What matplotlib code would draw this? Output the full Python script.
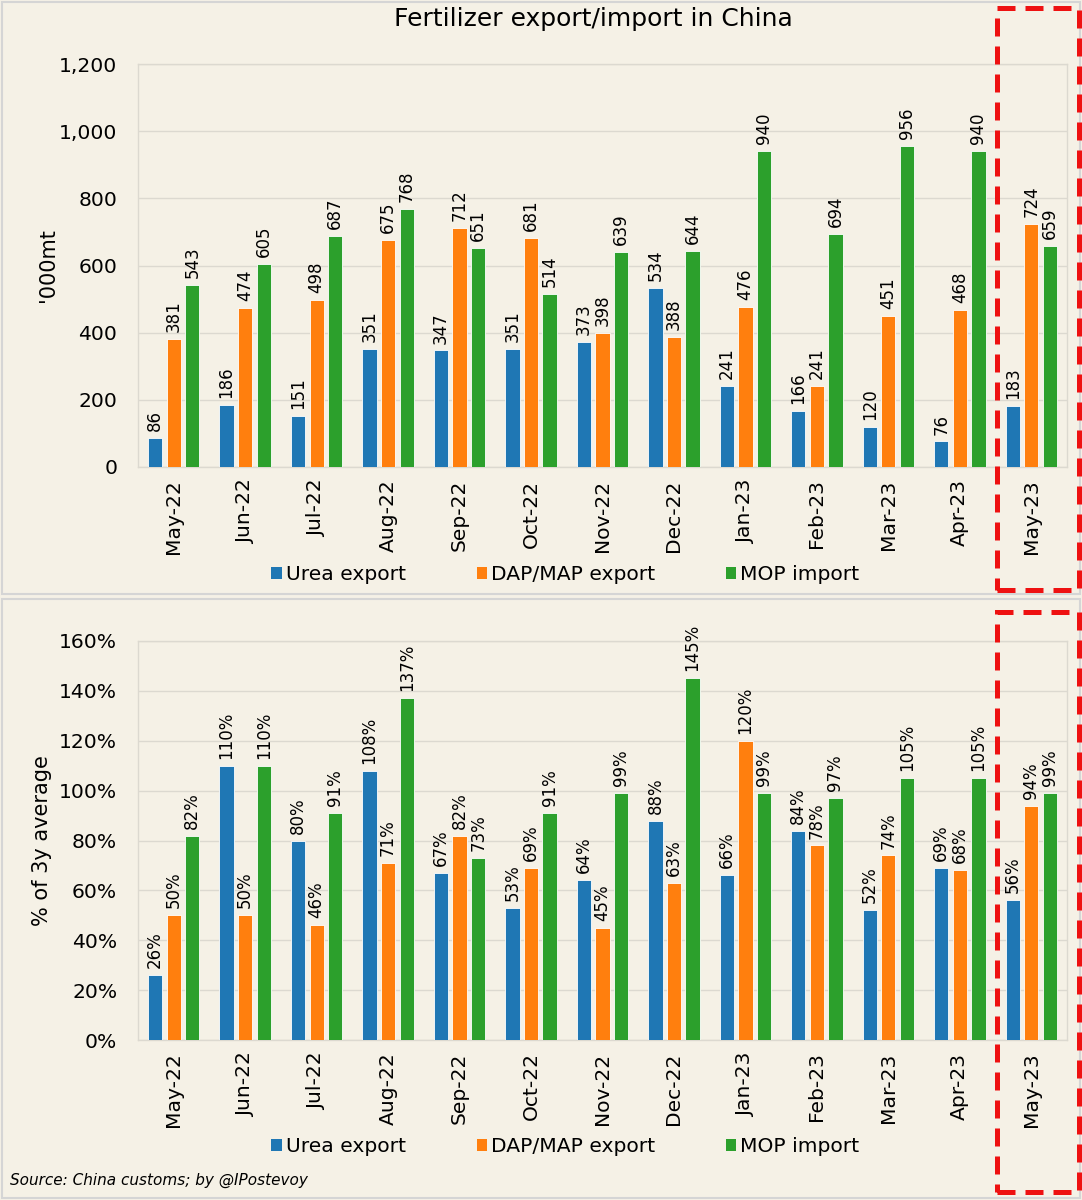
import matplotlib
matplotlib.use("Agg")
import matplotlib.pyplot as plt
import numpy as np
from matplotlib.patches import Rectangle, Patch

plt.rcParams['font.family'] = ['DejaVu Sans']

# data
months = ['May-22', 'Jun-22', 'Jul-22', 'Aug-22', 'Sep-22', 'Oct-22', 'Nov-22',
          'Dec-22', 'Jan-23', 'Feb-23', 'Mar-23', 'Apr-23', 'May-23']
series_names = ['Urea export', 'DAP/MAP export', 'MOP import']

urea_kt = [86, 186, 151, 351, 347, 351, 373, 534, 241, 166, 120, 76, 183]
dap_kt = [381, 474, 498, 675, 712, 681, 398, 388, 476, 241, 451, 468, 724]
mop_kt = [543, 605, 687, 768, 651, 514, 639, 644, 940, 694, 956, 940, 659]

urea_pct = [26, 110, 80, 108, 67, 53, 64, 88, 66, 84, 52, 69, 56]
dap_pct = [50, 50, 46, 71, 82, 69, 45, 63, 120, 78, 74, 68, 94]
mop_pct = [82, 110, 91, 137, 73, 91, 99, 145, 99, 97, 105, 105, 99]

colors = ['#1F77B4', '#FF7F0E', '#2CA02C']
bg = '#F5F1E6'
grid_c = '#DCD9D0'

W, H = 1082, 1200
fig = plt.figure(figsize=(W / 100, H / 100), dpi=100, facecolor=bg)


def fx(px):
    return px / W


def fy(py):
    return 1 - py / H


def draw_panel(ax, data, ymax, ystep, fmt, ylabel, ylab_x):
    ax.set_facecolor(bg)
    x = np.arange(len(months))
    offs = [-0.26, 0.0, 0.26]
    for vals, off, c in zip(data, offs, colors):
        bars = ax.bar(x + off, vals, width=0.2, color=c, edgecolor='white',
                      linewidth=0.6, zorder=3)
        for b, v in zip(bars, vals):
            ax.annotate(fmt(v), (b.get_x() + b.get_width() / 2, b.get_height()),
                        xytext=(0, 5), textcoords='offset points',
                        rotation=90, ha='center', va='bottom', fontsize=12)
    ax.set_xlim(-0.5, len(months) - 0.5)
    ax.set_ylim(0, ymax)
    ticks = np.arange(0, ymax + 1, ystep)
    ax.set_yticks(ticks)
    ax.set_yticklabels([fmt(t) for t in ticks])
    ax.set_xticks(x)
    ax.set_xticklabels(months, rotation=90)
    ax.tick_params(axis='both', length=0, labelsize=14.6)
    ax.tick_params(axis='y', pad=15)
    ax.tick_params(axis='x', pad=9)
    ax.yaxis.grid(True, color=grid_c, linewidth=1, zorder=0)
    for s in ax.spines.values():
        s.set_color(grid_c)
        s.set_linewidth(1)
    ax.set_ylabel(ylabel, fontsize=15)
    ax.yaxis.set_label_coords(ylab_x, 0.5)
    handles = [Patch(facecolor=c, edgecolor='none') for c in colors]
    ax.legend(handles, series_names, loc='center', bbox_to_anchor=(0.46, -0.267),
              ncol=3, frameon=False, fontsize=14.6, handlelength=0.5,
              handleheight=0.5, handletextpad=0.2, columnspacing=3.5)


# top panel: volumes
ax1 = fig.add_axes([fx(138), fy(467), fx(1067 - 138), (467 - 64) / H])
draw_panel(ax1, [urea_kt, dap_kt, mop_kt], 1200, 200, lambda v: f'{v:,}',
           "'000mt", -0.086)

# bottom panel: share of 3y average
ax2 = fig.add_axes([fx(138), fy(1040), fx(1067 - 138), (1040 - 641) / H])
draw_panel(ax2, [urea_pct, dap_pct, mop_pct], 160, 20, lambda v: f'{v}%',
           '% of 3y average', -0.093)

fig.text(fx(593), fy(19), 'Fertilizer export/import in China', fontsize=18,
         ha='center', va='center')
fig.text(fx(10), fy(1180), 'Source: China customs; by @IPostevoy', fontsize=11,
         style='italic', ha='left', va='center')

# panel borders
for top, bot in [(2, 594), (599, 1198)]:
    fig.patches.append(Rectangle((fx(2), fy(bot)), fx(1078), (bot - top) / H,
                                 transform=fig.transFigure, fill=False,
                                 edgecolor='#D5D5D5', linewidth=1.5))

# red dashed highlight boxes around the latest month
for top, bot in [(8, 590), (612, 1192)]:
    fig.patches.append(Rectangle((fx(997), fy(bot)), fx(1079 - 997), (bot - top) / H,
                                 transform=fig.transFigure, fill=False,
                                 edgecolor='#EE1111', linewidth=3.6,
                                 linestyle=(0, (3.6, 2.0))))

fig.savefig('out.png', dpi=100, facecolor=bg)
